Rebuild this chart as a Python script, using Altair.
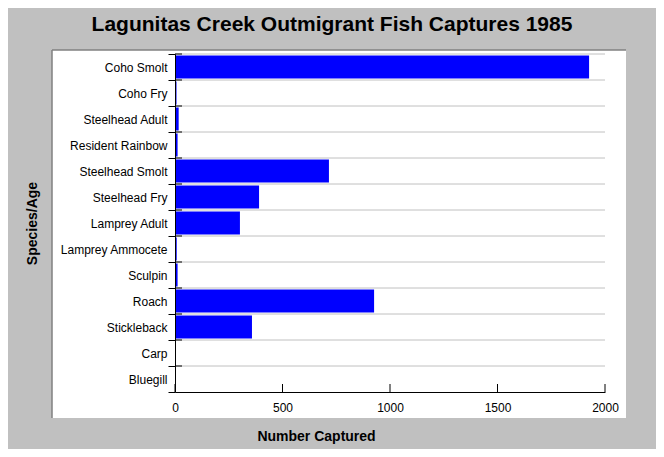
import altair as alt
import pandas as pd

species = ["Coho Smolt", "Coho Fry", "Steelhead Adult", "Resident Rainbow",
           "Steelhead Smolt", "Steelhead Fry", "Lamprey Adult", "Lamprey Ammocete",
           "Sculpin", "Roach", "Stickleback", "Carp", "Bluegill"]
captured = [1926, 7, 17, 12, 716, 391, 302, 8, 12, 926, 358, 0, 0]
x_ticks = [0, 500, 1000, 1500, 2000]

W, H = 430, 338
FONT = "Liberation Sans"

df = pd.DataFrame({"species": species, "value": captured})
ticks_df = pd.DataFrame({"value": x_ticks})
one = pd.DataFrame({"a": [0]})

x_scale = alt.Scale(domain=[0, 2000], nice=False)
y_scale = alt.Scale(paddingInner=0, paddingOuter=0)

panel = alt.Chart(one).mark_rect(color="white").encode(
    x=alt.value(-123), x2=alt.value(451), y=alt.value(-4), y2=alt.value(364))
border_left = alt.Chart(one).mark_rule(color="#808080", strokeWidth=1.5).encode(
    x=alt.value(-123), y=alt.value(-4), y2=alt.value(364))
border_top = alt.Chart(one).mark_rule(color="#808080", strokeWidth=1.5).encode(
    x=alt.value(-123), x2=alt.value(451), y=alt.value(-4))

grid = alt.Chart(df).mark_rule(color="#C0C0C0", strokeWidth=1).encode(
    y=alt.Y("species:N", sort=species, scale=y_scale, bandPosition=0),
    x=alt.value(0), x2=alt.value(W))

bars = alt.Chart(df).mark_bar(size=23, color="#0000FF").encode(
    y=alt.Y("species:N", sort=species, scale=y_scale,
            axis=alt.Axis(title="Species/Age", tickBand="extent", grid=False,
                          domainColor="black", tickColor="black", tickSize=7,
                          labelPadding=1, labelFont=FONT, labelFontSize=12,
                          labelColor="black", titleFont=FONT, titleFontSize=14,
                          titleFontWeight="bold", titleColor="black",
                          titleX=-143, titleY=169, titleAngle=-90,
                          titleAlign="center", titleBaseline="middle", zindex=1)),
    x=alt.X("value:Q", scale=x_scale,
            axis=alt.Axis(title="Number Captured", values=x_ticks, grid=False,
                          format="d", labelFlush=False,
                          domainColor="black", tickSize=0, labelPadding=10,
                          labelFont=FONT, labelFontSize=12, labelColor="black",
                          labelBaseline="top",
                          titleFont=FONT, titleFontSize=14, titleFontWeight="bold",
                          titleColor="black", titleX=141, titleY=44,
                          titleAlign="center", titleBaseline="middle", zindex=1)),
)

yticks_in = alt.Chart(df).mark_rule(color="black").encode(
    y=alt.Y("species:N", sort=species, scale=y_scale, bandPosition=0),
    x=alt.value(0), x2=alt.value(7))

xticks_in = alt.Chart(ticks_df).mark_rule(color="black").encode(
    x=alt.X("value:Q", scale=x_scale),
    y=alt.value(H - 8), y2=alt.value(H))

chart = alt.layer(panel, border_left, border_top, grid, bars, yticks_in, xticks_in).properties(
    width=W, height=H,
    autosize=alt.AutoSizeParams(type="none"),
    padding={"left": 167, "top": 46, "right": 51, "bottom": 57},
    background="#C0C0C0",
    title=alt.TitleParams("Lagunitas Creek Outmigrant Fish Captures 1985",
                          font=FONT, fontSize=21, fontWeight="bold", color="black",
                          anchor="middle", dx=-58, offset=13),
).configure_view(stroke=None)

chart.save("out.html", embed_options={"renderer": "svg", "actions": False})
